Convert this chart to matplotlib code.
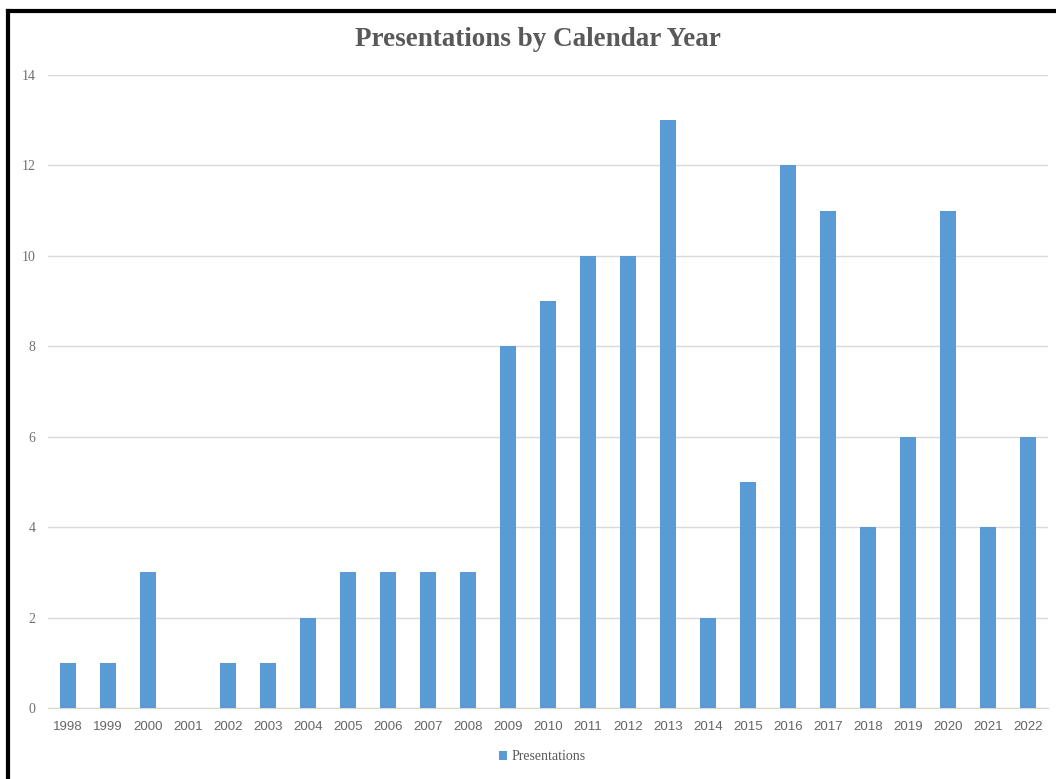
import matplotlib.pyplot as plt
from matplotlib.lines import Line2D

years = [str(y) for y in range(1998, 2023)]
presentations = [1, 1, 3, 0, 1, 1, 2, 3, 3, 3, 3, 8, 9, 10, 10, 13, 2, 5, 12, 11, 4, 6, 11, 4, 6]
y_ticks = [0, 2, 4, 6, 8, 10, 12, 14]

W, H = 1056, 779
TEXT = "#595959"
GRID = "#d9d9d9"
BAR = "#5B9BD5"

fig = plt.figure(figsize=(W / 100, H / 100), dpi=100)
ax = fig.add_axes([48 / W, 71 / H, 1000 / W, 633 / H])

x = range(len(years))
ax.bar(x, presentations, width=0.4, color=BAR, zorder=3, label="Presentations")

ax.set_xlim(-0.5, len(years) - 0.5)
ax.set_ylim(0, 14)
ax.set_yticks(y_ticks)
ax.set_yticklabels([str(t) for t in y_ticks], family="Liberation Serif", fontsize=10, color="#707070")
ax.set_xticks(list(x))
ax.set_xticklabels(years, family="Liberation Sans", fontsize=9.5, color="#666666")
ax.tick_params(axis="both", length=0)
ax.tick_params(axis="y", pad=9)
ax.tick_params(axis="x", pad=9)

ax.grid(axis="y", color=GRID, linewidth=1, zorder=0)
for side in ["top", "right", "left"]:
    ax.spines[side].set_visible(False)
ax.spines["bottom"].set_color(GRID)
ax.spines["bottom"].set_linewidth(1)

fig.text(538 / W, 1 - 40 / H, "Presentations by Calendar Year", ha="center", va="center",
         family="Liberation Serif", fontweight="bold", fontsize=19.5, color=TEXT)

leg = fig.legend(loc="center", bbox_to_anchor=(542 / W, 1 - 757 / H), frameon=False,
                 prop={"family": "Liberation Serif", "size": 10},
                 handlelength=0.6, handleheight=0.6, handletextpad=0.3)
for t in leg.get_texts():
    t.set_color(TEXT)

# black frame on top and left edges
fig.add_artist(Line2D([8 / W, 8 / W], [0, 1 - 11 / H], color="black", linewidth=3,
                      solid_capstyle="projecting", transform=fig.transFigure))
fig.add_artist(Line2D([8 / W, 1], [1 - 11 / H, 1 - 11 / H], color="black", linewidth=3,
                      solid_capstyle="projecting", transform=fig.transFigure))

fig.savefig("out.png", dpi=100)
